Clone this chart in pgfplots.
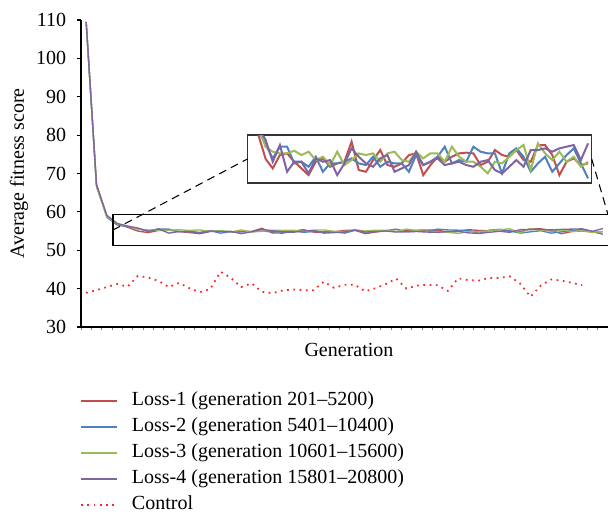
\documentclass[border=0pt]{standalone}
\usepackage{pgfplots}
\pgfplotsset{compat=1.18}
\usepackage{pgfplotstable}
\usepackage{fontspec}
\setmainfont{Liberation Serif}

\definecolor{lossred}{RGB}{192,80,77}
\definecolor{lossblue}{RGB}{79,129,189}
\definecolor{lossgreen}{RGB}{155,187,89}
\definecolor{losspurple}{RGB}{128,100,162}
\definecolor{ctrlred}{RGB}{250,40,40}

% average fitness per generation block (categories 0..50)
\pgfplotstableread{
i  l1     l2     l3     l4
0  109.5  109.5  109.5  109.5
1  67.2   66.8   66.5   67.0
2  59.0   58.6   58.8   59.1
3  56.8   56.6   56.9   57.0
4  56.0   56.2   56.3   56.3
5  55.0   55.6   55.5   55.8
6  54.60  55.02  55.30  54.88
7  55.16  55.51  55.23  55.58
8  55.23  55.51  55.23  54.46
9  54.88  54.81  55.34  54.88
10 54.60  54.88  55.16  54.88
11 54.32  54.67  55.30  54.39
12 54.88  55.09  54.95  55.02
13 55.02  54.46  55.09  54.88
14 54.67  54.81  54.74  54.95
15 54.81  54.81  55.30  54.32
16 54.88  54.88  54.74  54.81
17 55.72  55.02  54.95  55.44
18 54.53  54.81  55.23  55.09
19 54.46  54.74  55.16  54.81
20 54.95  55.09  55.23  54.67
21 55.37  54.67  54.88  55.02
22 54.74  54.88  55.23  55.16
23 54.67  54.81  55.30  54.46
24 54.81  54.81  54.95  54.60
25 55.16  54.46  54.88  54.74
26 55.23  55.16  55.30  55.30
27 54.32  54.74  55.02  54.74
28 54.74  54.88  55.23  54.88
29 55.09  55.09  55.23  55.02
30 54.88  55.51  54.88  54.74
31 55.09  54.81  55.51  54.81
32 55.23  54.95  55.09  54.88
33 55.26  54.88  54.88  54.74
34 55.23  55.51  54.88  54.67
35 54.74  55.30  54.67  54.88
36 54.88  55.23  54.39  54.95
37 55.37  55.23  54.88  54.53
38 55.16  54.39  54.81  54.39
39 55.09  55.23  55.09  54.67
40 55.37  55.44  55.37  54.95
41 54.95  55.09  55.58  54.67
42 54.88  54.46  54.53  55.37
43 55.58  54.81  55.65  55.37
44 55.58  55.09  55.23  55.44
45 55.16  54.46  54.95  55.30
46 54.32  54.81  55.30  55.44
47 54.88  55.16  54.88  55.51
48 55.02  55.44  55.09  55.58
49 54.74  54.81  54.67  54.95
50 54.81  54.18  54.88  55.65
}\losstable

\pgfplotstableread{
i  c
0  38.9
1  39.6
2  40.4
3  41.2
4  40.5
5  43.3
6  42.9
7  42.0
8  40.4
9  41.5
10 40.1
11 39.1
12 39.9
13 44.4
14 42.8
15 40.4
16 41.4
17 39.2
18 38.8
19 39.5
20 39.8
21 39.6
22 39.6
23 41.8
24 40.2
25 41.0
26 41.0
27 39.3
28 40.1
29 41.2
30 42.6
31 40.0
32 40.8
33 41.0
34 40.9
35 39.4
36 42.7
37 42.2
38 42.1
39 42.8
40 42.8
41 43.2
42 41.3
43 37.9
44 40.8
45 42.4
46 42.1
47 41.5
48 40.9
}\controltable

\begin{document}
\begin{tikzpicture}[font=\fontsize{15}{18}\selectfont]
\begin{axis}[
    name=main,
    at={(0,0)}, anchor=south west,
    scale only axis,
    width=395.25pt, height=230.25pt,
    xmin=-0.5, xmax=50.5,
    ymin=30, ymax=110,
    axis x line*=bottom, axis y line*=left,
    axis line style={line width=1.2pt, -},
    ytick={30,40,...,110},
    xtick={-0.5,0.5,...,50.5},
    xticklabels={},
    tick align=outside,
    major tick length=3pt,
    xtick style={gray, line width=0.6pt, /pgfplots/major tick length=2pt},
    ytick style={black, line width=0.8pt},
    /pgf/number format/assume math mode=true,
    yticklabel style={inner sep=0pt, xshift=-8pt},
    ylabel={Average fitness score},
    every axis y label/.style={at={(axis description cs:-0.1176,0.5)}, rotate=90, anchor=center},
    xlabel={Generation},
    every axis x label/.style={at={(axis description cs:0.5085,-0.075)}, anchor=center},
    legend style={at={(axis description cs:-0.002,-0.2115)}, anchor=north west,
        draw=none, fill=none, inner sep=0pt,
        nodes={inner sep=0pt, text height=10pt, text depth=3pt},
        row sep=6.5pt,
        /tikz/every odd column/.append style={column sep=10.5pt}},
    legend cell align=left,
    legend image code/.code={\draw[#1] (0pt,0pt) -- (27pt,0pt);},
]
\addplot[lossred, line width=1pt] table[x=i, y=l1] {\losstable};
\addplot[lossblue, line width=1pt] table[x=i, y=l2] {\losstable};
\addplot[lossgreen, line width=1pt] table[x=i, y=l3] {\losstable};
\addplot[losspurple, line width=1pt] table[x=i, y=l4] {\losstable};
\addplot[ctrlred, line width=1.3pt, dash pattern=on 1.3pt off 3.4pt] table[x=i, y=c] {\controltable};
\legend{Loss-1 (generation 201–5200), Loss-2 (generation 5401–10400),
        Loss-3 (generation 10601–15600), Loss-4 (generation 15801–20800), Control}
% zoom frame around the flat part of the curves
\draw[line width=0.8pt] (axis cs:50.5,59.3) -- (axis cs:2.6,59.3)
    -- (axis cs:2.6,51.2) -- (axis cs:50.5,51.2);
\end{axis}

% magnified view
\begin{axis}[
    name=inset,
    at={(125pt,108.2pt)}, anchor=south west,
    scale only axis,
    width=258pt, height=35.8pt,
    xmin=2.5, xmax=50.5,
    ymin=54, ymax=56,
    ticks=none,
    axis line style={line width=1.2pt, black!80},
]
\addplot[lossred, line width=1.5pt] table[x=i, y=l1] {\losstable};
\addplot[lossblue, line width=1.5pt] table[x=i, y=l2] {\losstable};
\addplot[lossgreen, line width=1.5pt] table[x=i, y=l3] {\losstable};
\addplot[losspurple, line width=1.5pt] table[x=i, y=l4] {\losstable};
\end{axis}

\draw[line width=0.8pt, dash pattern=on 6pt off 4pt] (24.03pt,72.76pt) -- (inset.west);
\draw[line width=0.8pt, dash pattern=on 6pt off 4pt] (inset.east) -- (395.25pt,84.4pt);

\pgfresetboundingbox
\path[use as bounding box] (-60.75pt,-138.75pt) rectangle (395.25pt,245.25pt);
\end{tikzpicture}
\end{document}
